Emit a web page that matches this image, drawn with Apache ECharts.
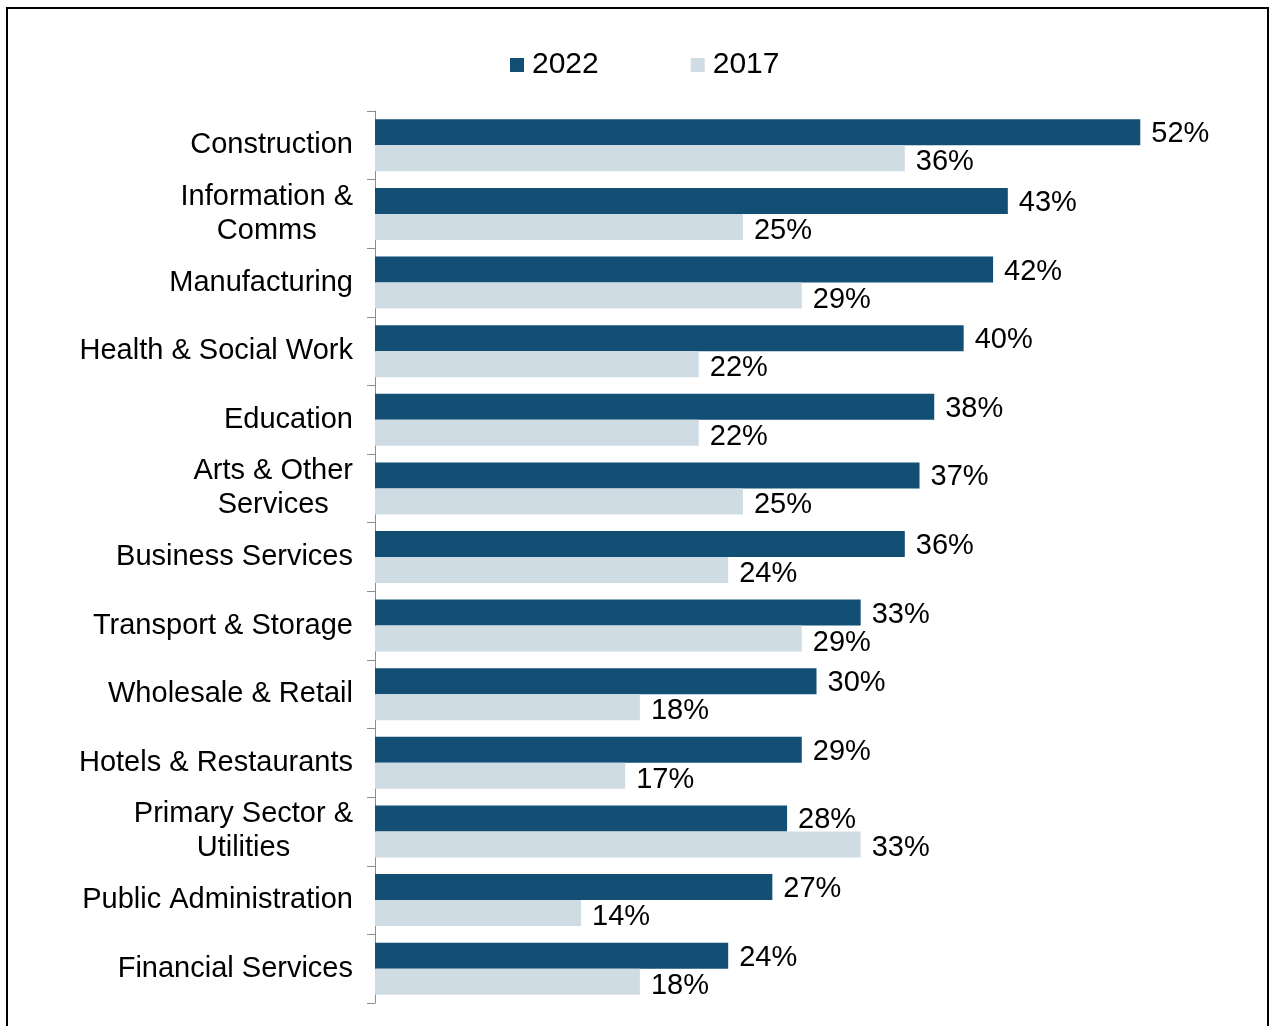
<!DOCTYPE html>
<html>
<head>
<meta charset="utf-8">
<script src="https://cdn.jsdelivr.net/npm/echarts@6/dist/echarts.min.js"></script>
<style>
  html, body { margin: 0; padding: 0; background: #fff; }
  #chart { width: 1269px; height: 1026px; }
</style>
</head>
<body>
<div id="chart"></div>
<script>
// sectors, top to bottom
var sectors = [
  'Construction', 'Information &\nComms', 'Manufacturing', 'Health & Social Work',
  'Education', 'Arts & Other\nServices', 'Business Services', 'Transport & Storage',
  'Wholesale & Retail', 'Hotels & Restaurants', 'Primary Sector &\nUtilities',
  'Public Administration', 'Financial Services'
]
var values2022 = [52, 43, 42, 40, 38, 37, 36, 33, 30, 29, 28, 27, 24]
var values2017 = [36, 25, 29, 22, 22, 25, 24, 29, 18, 17, 33, 14, 18]

var FONT = 'Liberation Sans, Arial, sans-serif'
var chart = echarts.init(document.getElementById('chart'))

var barLabel = {
  show: true,
  position: 'right',
  distance: 11,
  formatter: '{c}%',
  color: '#000',
  fontSize: 29,
  fontFamily: FONT
}

chart.setOption({
  animation: false,
  color: ['#134f74', '#d0dce4'],
  graphic: [{
    type: 'rect',
    shape: { x: 7, y: 8, width: 1261, height: 1040 },
    style: { fill: 'none', stroke: '#000', lineWidth: 2 },
    silent: true
  }],
  legend: {
    left: 505,
    top: 45,
    itemWidth: 14,
    itemHeight: 14,
    itemGap: 92,
    icon: 'rect',
    textStyle: { fontSize: 30, fontFamily: FONT, color: '#000', padding: [0, 0, 0, 3] },
    data: ['2022', '2017']
  },
  grid: {
    left: 375,
    right: 11,
    top: 111,
    bottom: 23,
    containLabel: false
  },
  xAxis: {
    type: 'value',
    min: 0,
    max: 60,
    show: false
  },
  yAxis: {
    type: 'category',
    inverse: true,
    data: sectors,
    axisLine: { show: true, lineStyle: { color: '#8c8c8c', width: 1 } },
    axisTick: { show: true, length: 8, lineStyle: { color: '#8c8c8c' } },
    axisLabel: {
      margin: 22,
      color: '#000',
      fontSize: 29,
      fontFamily: FONT,
      formatter: function (v) {
        return v.split('\n').map(function (s) { return '{a|' + s + '}' }).join('\n')
      },
      rich: {
        a: { align: 'center', fontSize: 29, lineHeight: 34, fontFamily: FONT, color: '#000' }
      }
    }
  },
  series: [
    {
      name: '2022',
      type: 'bar',
      barWidth: 26,
      barGap: '0%',
      label: Object.assign({}, barLabel, { offset: [0, 2] }),
      data: values2022
    },
    {
      name: '2017',
      type: 'bar',
      barWidth: 26,
      barGap: '0%',
      label: Object.assign({}, barLabel, { offset: [0, 4] }),
      data: values2017
    }
  ]
})
</script>
</body>
</html>
